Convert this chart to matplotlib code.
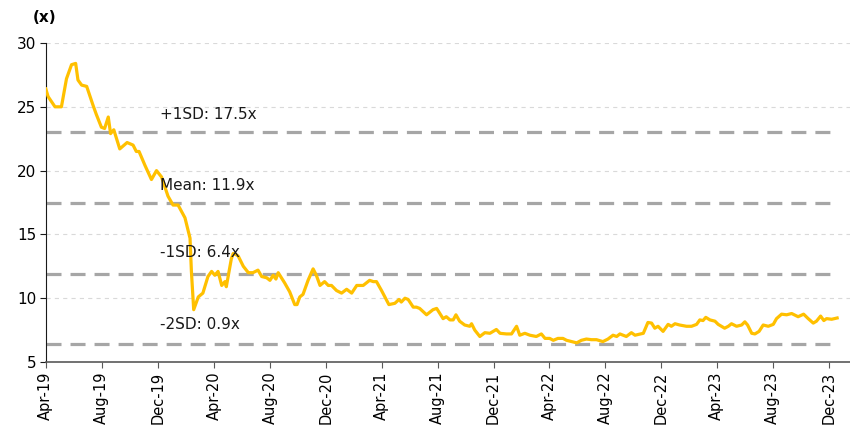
import matplotlib
matplotlib.use("Agg")
import matplotlib.pyplot as plt
import matplotlib.dates as mdates
import pandas as pd

dates = [
    "2019-04-01", "2019-04-06", "2019-04-21", "2019-05-05", "2019-05-16", "2019-05-27",
    "2019-06-05", "2019-06-10", "2019-06-18", "2019-06-29", "2019-07-13", "2019-07-20",
    "2019-07-31", "2019-08-07", "2019-08-15", "2019-08-20", "2019-08-27", "2019-09-09",
    "2019-09-25", "2019-10-08", "2019-10-15", "2019-10-21", "2019-11-03", "2019-11-17",
    "2019-11-28", "2019-12-09", "2019-12-23", "2020-01-03", "2020-01-14", "2020-01-29",
    "2020-02-09", "2020-02-12", "2020-02-17", "2020-02-27", "2020-03-08", "2020-03-19",
    "2020-03-27", "2020-04-03", "2020-04-10", "2020-04-18", "2020-04-25", "2020-04-28",
    "2020-05-09", "2020-05-13", "2020-05-20", "2020-05-24", "2020-06-04", "2020-06-15",
    "2020-06-25", "2020-07-06", "2020-07-14", "2020-07-25", "2020-08-01", "2020-08-08",
    "2020-08-14", "2020-08-19", "2020-09-02", "2020-09-13", "2020-09-24", "2020-09-29",
    "2020-10-05", "2020-10-12", "2020-10-23", "2020-11-03", "2020-11-10", "2020-11-18",
    "2020-11-28", "2020-12-06", "2020-12-13", "2020-12-24", "2021-01-04", "2021-01-15",
    "2021-01-26", "2021-02-06", "2021-02-20", "2021-03-06", "2021-03-14", "2021-03-21",
    "2021-04-01", "2021-04-17", "2021-04-30", "2021-05-09", "2021-05-14", "2021-05-22",
    "2021-05-29", "2021-06-09", "2021-06-16", "2021-06-23", "2021-07-08", "2021-07-22",
    "2021-07-30", "2021-08-13", "2021-08-20", "2021-08-28", "2021-09-04", "2021-09-10",
    "2021-09-18", "2021-09-29", "2021-10-10", "2021-10-14", "2021-10-21", "2021-11-01",
    "2021-11-12", "2021-11-23", "2021-12-07", "2021-12-15", "2021-12-29", "2022-01-09",
    "2022-01-20", "2022-01-27", "2022-02-07", "2022-02-18", "2022-03-04", "2022-03-15",
    "2022-03-23", "2022-04-02", "2022-04-10", "2022-04-20", "2022-05-01", "2022-05-09",
    "2022-05-20", "2022-05-31", "2022-06-10", "2022-06-21", "2022-07-02", "2022-07-13",
    "2022-07-27", "2022-08-07", "2022-08-18", "2022-08-26", "2022-09-02", "2022-09-16",
    "2022-09-27", "2022-10-05", "2022-10-23", "2022-11-02", "2022-11-10", "2022-11-17",
    "2022-11-24", "2022-12-05", "2022-12-16", "2022-12-23", "2022-12-31", "2023-01-10",
    "2023-01-25", "2023-02-05", "2023-02-16", "2023-02-23", "2023-03-02", "2023-03-08",
    "2023-03-17", "2023-03-28", "2023-04-04", "2023-04-18", "2023-04-26", "2023-05-03",
    "2023-05-14", "2023-05-25", "2023-06-01", "2023-06-07", "2023-06-16", "2023-06-23",
    "2023-07-02", "2023-07-11", "2023-07-22", "2023-08-02", "2023-08-09", "2023-08-20",
    "2023-08-31", "2023-09-11", "2023-09-25", "2023-10-07", "2023-10-17", "2023-10-28",
    "2023-11-04", "2023-11-13", "2023-11-20", "2023-11-26", "2023-12-07", "2023-12-19",
]
pe_values = [
    26.4, 25.8, 25.0, 25.0, 27.2, 28.3,
    28.4, 27.1, 26.7, 26.6, 25.1, 24.4,
    23.4, 23.3, 24.2, 22.9, 23.2, 21.7,
    22.2, 22.0, 21.5, 21.5, 20.4, 19.3,
    20.0, 19.5, 18.0, 17.3, 17.3, 16.3,
    14.7, 12.1, 9.1, 10.1, 10.4, 11.7,
    12.1, 11.8, 12.1, 11.0, 11.3, 10.9,
    13.1, 13.5, 13.4, 13.3, 12.5, 12.0,
    12.0, 12.2, 11.7, 11.6, 11.4, 11.8,
    11.5, 12.0, 11.2, 10.5, 9.5, 9.5,
    10.1, 10.3, 11.4, 12.3, 11.8, 11.0,
    11.3, 11.0, 11.0, 10.6, 10.4, 10.7,
    10.4, 11.0, 11.0, 11.4, 11.3, 11.3,
    10.6, 9.5, 9.6, 9.9, 9.7, 10.0,
    9.9, 9.3, 9.3, 9.2, 8.7, 9.1,
    9.2, 8.4, 8.55, 8.3, 8.3, 8.7,
    8.2, 7.9, 7.8, 8.0, 7.5, 7.0,
    7.3, 7.25, 7.55, 7.25, 7.2, 7.2,
    7.8, 7.1, 7.25, 7.1, 7.0, 7.2,
    6.85, 6.85, 6.7, 6.85, 6.85, 6.7,
    6.6, 6.5, 6.7, 6.8, 6.75, 6.75,
    6.6, 6.8, 7.1, 7.0, 7.2, 7.0,
    7.3, 7.1, 7.25, 8.1, 8.05, 7.65,
    7.8, 7.4, 7.95, 7.8, 8.0, 7.9,
    7.8, 7.8, 7.95, 8.3, 8.25, 8.5,
    8.3, 8.2, 7.95, 7.65, 7.8, 8.0,
    7.8, 7.9, 8.15, 7.9, 7.25, 7.2,
    7.4, 7.9, 7.8, 7.95, 8.4, 8.75,
    8.7, 8.8, 8.55, 8.75, 8.4, 8.05,
    8.2, 8.6, 8.25, 8.4, 8.35, 8.45,
]

band_values = [23.0, 17.5, 11.9, 6.4]
band_labels = ["+1SD: 17.5x", "Mean: 11.9x", "-1SD: 6.4x", "-2SD: 0.9x"]
label_date = "2019-12-05"
label_offsets_pt = [12.7, 12.6, 15.5, 14.3]

tick_dates = pd.date_range("2019-04-01", "2023-12-01", freq="4MS")
y_ticks = [5, 10, 15, 20, 25, 30]

x = pd.to_datetime(dates)

plt.rcParams["font.family"] = ["DejaVu Sans"]
plt.rcParams["lines.scale_dashes"] = False

fig = plt.figure(figsize=(8.5, 4.37), dpi=100)
ax = fig.add_axes([0.0539, 0.1716, 0.9461, 0.7300])

for yv in y_ticks[1:]:
    ax.axhline(yv, color="#D9D9D9", linewidth=0.8, dashes=(3, 3), zorder=1)

for yv, lab, off in zip(band_values, band_labels, label_offsets_pt):
    ax.plot([x[0], x[-1]], [yv, yv], color="#A6A6A6", linewidth=2.3,
            dashes=(10.8, 6.5), solid_capstyle="butt", dash_capstyle="butt", zorder=2)
    ax.annotate(lab, xy=(pd.Timestamp(label_date), yv), xytext=(0, off),
                textcoords="offset points", fontsize=11, color="#1a1a1a",
                ha="left", va="center", zorder=4)

ax.plot(x, pe_values, color="#FFC000", linewidth=2.3, zorder=3)

ax.set_ylim(5, 30)
ax.set_yticks(y_ticks)
ax.set_xlim(pd.Timestamp("2019-04-01"), pd.Timestamp("2024-01-16"))
ax.set_xticks(tick_dates)
ax.xaxis.set_major_formatter(mdates.DateFormatter("%b-%y"))
ax.tick_params(axis="x", rotation=90, labelsize=10.5, length=4, color="#595959", pad=3)
ax.tick_params(axis="y", labelsize=11, length=4, color="#1a1a1a", pad=3)

for s in ["top", "right"]:
    ax.spines[s].set_visible(False)
ax.spines["left"].set_color("#1a1a1a")
ax.spines["bottom"].set_color("#595959")
ax.spines["bottom"].set_linewidth(1.2)

fig.text(0.038, 0.961, "(x)", fontsize=11, fontweight="bold", ha="left", va="center")

fig.savefig("out.png", dpi=100)
